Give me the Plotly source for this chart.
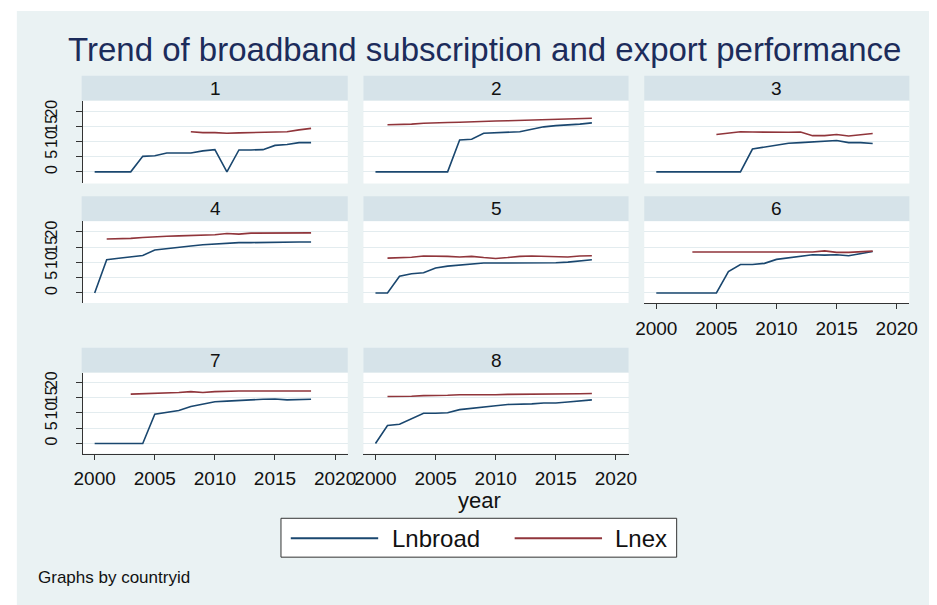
import plotly.graph_objects as go

W, H = 937, 605
years = list(range(2000, 2019))
N = None

lnbroad_1 = [0, 0, 0, 0, 5.1, 5.3, 6.2, 6.2, 6.2, 6.9, 7.3, 0, 7.2, 7.2, 7.3, 8.7, 9.0, 9.6, 9.6]
lnex_1 = [N] * 8 + [13.2, 12.9, 12.9, 12.7, 12.8, 12.9, 13.1, 13.2, 13.2, 13.8, 14.3]
lnbroad_2 = [0] * 7 + [10.5, 10.7, 12.7, 12.9, 13.0, 13.2, 14.0, 14.8, 15.2, 15.4, 15.7, 16.1]
lnex_2 = [N] + [15.5, 15.5, 15.7, 16.0, 16.0, 16.2, 16.3, 16.5, 16.6, 16.7, 16.8, 16.9, 16.9, 17.0, 17.2, 17.3, 17.4, 17.6]
lnbroad_3 = [0] * 8 + [7.5, 8.2, 8.9, 9.4, 9.6, 9.8, 9.9, 10.3, 9.6, 9.6, 9.3]
lnex_3 = [N] * 5 + [12.3, 12.8, 13.2, 13.1, 13.0, 12.9, 13.0, 13.1, 11.9, 11.9, 12.3, 11.8, 12.3, 12.6]
lnbroad_4 = [0, 10.9, 11.4, 11.8, 12.3, 14.1, 14.6, 14.9, 15.4, 15.8, 16.1, 16.3, 16.5, 16.5, 16.6, 16.7, 16.7, 16.7, 16.7]
lnex_4 = [N] + [17.7, 17.7, 17.9, 18.2, 18.5, 18.6, 18.7, 18.8, 18.9, 19.1, 19.5, 19.3, 19.6, 19.6, 19.5, 19.5, 19.5, 19.7]
lnbroad_5 = [0, 0, 5.5, 6.3, 6.6, 8.2, 8.8, 9.2, 9.6, 9.8, 9.8, 9.8, 9.8, 9.8, 9.9, 9.9, 10.1, 10.4, 10.9]
lnex_5 = [N] + [11.4, 11.5, 11.7, 12.1, 12.1, 12.0, 11.8, 12.0, 11.6, 11.3, 11.6, 12.0, 12.1, 12.0, 11.8, 11.8, 12.1, 12.2]
lnbroad_6 = [0] * 6 + [7.0, 9.3, 9.3, 9.7, 11.0, 11.5, 12.2, 12.5, 12.4, 12.5, 12.2, 13.0, 13.6]
lnex_6 = [N] * 3 + [13.4, 13.4, 13.5, 13.5, 13.5, 13.5, 13.5, 13.5, 13.5, 13.4, 13.4, 13.8, 13.3, 13.3, 13.5, 13.7]
lnbroad_7 = [0, 0, 0, 0, 0, 9.6, 10.1, 10.8, 12.1, 12.9, 13.7, 13.9, 14.2, 14.3, 14.5, 14.6, 14.3, 14.4, 14.5]
lnex_7 = [N] * 3 + [16.2, 16.3, 16.5, 16.7, 16.7, 17.0, 16.7, 17.0, 17.2, 17.2, 17.2, 17.2, 17.0, 17.0, 17.0, 17.2]
lnbroad_8 = [0, 5.9, 6.3, 8.0, 9.9, 9.9, 10.1, 11.1, 11.6, 12.1, 12.4, 12.8, 12.8, 13.0, 13.3, 13.3, 13.6, 14.0, 14.3]
lnex_8 = [N] + [15.4, 15.4, 15.5, 15.7, 15.7, 15.8, 16.0, 16.0, 15.8, 16.0, 16.1, 16.1, 16.1, 16.3, 16.3, 16.3, 16.3, 16.4]

panels = ["1", "2", "3", "4", "5", "6", "7", "8"]
broad = [lnbroad_1, lnbroad_2, lnbroad_3, lnbroad_4, lnbroad_5, lnbroad_6, lnbroad_7, lnbroad_8]
expo = [lnex_1, lnex_2, lnex_3, lnex_4, lnex_5, lnex_6, lnex_7, lnex_8]
series_names = ["Lnbroad", "Lnex"]
y_ticks = [0, 5, 10, 15, 20]
x_ticks = [2000, 2005, 2010, 2015, 2020]

BLUE = "#1A476F"
RED = "#90353B"
BG = "#EAF2F3"
STRIP = "#D6E3E9"
GRID = "#E3ECEF"
AX = "#333333"
FONT = "Liberation Sans, Arial, sans-serif"

cols = [(75, 345), (361, 631), (647, 917)]
rows = [(74, 99, 182), (195, 220, 302), (347, 372, 453)]
yranges = [[-3.8, 23.4], [-3.3, 23.5], [-3.3, 23.2]]

def px(x):
    return x / W

def py(y):
    return 1 - y / H

fig = go.Figure()
layout = {}
shapes = [dict(type="rect", xref="paper", yref="paper", x0=px(8), x1=1, y0=0, y1=py(9),
               fillcolor=BG, line=dict(width=0), layer="below")]
annotations = []

for i, name in enumerate(panels):
    r, c = divmod(i, 3)
    x0, x1 = cols[c]
    st, pt, pb = rows[r]
    k = "" if i == 0 else str(i + 1)
    fig.add_trace(go.Scatter(x=years, y=broad[i], mode="lines", name=series_names[0],
                             line=dict(color=BLUE, width=1.6), showlegend=False,
                             xaxis="x" + k, yaxis="y" + k, connectgaps=False))
    fig.add_trace(go.Scatter(x=years, y=expo[i], mode="lines", name=series_names[1],
                             line=dict(color=RED, width=1.6), showlegend=False,
                             xaxis="x" + k, yaxis="y" + k, connectgaps=False))
    show_x = i in (5, 6, 7)
    show_y = c == 0
    layout["xaxis" + k] = dict(domain=[px(x0), px(x1)], range=[1999, 2021.05], anchor="y" + k,
                               showgrid=False, zeroline=False, tickvals=x_ticks,
                               showticklabels=show_x, ticks="outside" if show_x else "",
                               ticklen=5, tickcolor=AX, showline=show_x, linecolor=AX, linewidth=1,
                               tickfont=dict(size=19, color="#111111", family=FONT),
                               ticklabelstandoff=3)
    layout["yaxis" + k] = dict(domain=[py(pb), py(pt)], range=yranges[r], anchor="x" + k,
                               showgrid=True, gridcolor=GRID, gridwidth=1.2, zeroline=False,
                               tickvals=y_ticks, showticklabels=show_y,
                               ticks="outside" if show_y else "", ticklen=6, tickcolor=AX,
                               showline=show_y, linecolor=AX, linewidth=1, tickangle=-90,
                               tickfont=dict(size=16, color="#111111", family=FONT),
                               ticklabelstandoff=12)
    shapes.append(dict(type="rect", xref="paper", yref="paper", x0=px(x0 - 1 if c == 0 else x0), x1=px(x1),
                       y0=py(pt), y1=py(st), fillcolor=STRIP, line=dict(width=0), layer="below"))
    shapes.append(dict(type="rect", xref="paper", yref="paper", x0=px(x0), x1=px(x1),
                       y0=py(pb), y1=py(pt), fillcolor="white", line=dict(width=0), layer="below"))
    annotations.append(dict(text=name, xref="paper", yref="paper", x=px((x0 + x1) / 2),
                            y=py((st + pt) / 2), showarrow=False, xanchor="center", yanchor="middle",
                            font=dict(size=19, color="#111111", family=FONT)))

annotations.append(dict(text="Trend of broadband subscription and export performance", xref="paper",
                        yref="paper", x=px(484), y=py(48), showarrow=False, xanchor="center",
                        yanchor="middle", font=dict(size=33, color="#1C2C5B", family=FONT)))
annotations.append(dict(text="year", xref="paper", yref="paper", x=px(479), y=py(500), showarrow=False,
                        xanchor="center", yanchor="middle", font=dict(size=22, color="#111111", family=FONT)))
annotations.append(dict(text="Graphs by countryid", xref="paper", yref="paper", x=px(28), y=py(577),
                        showarrow=False, xanchor="left", yanchor="middle",
                        font=dict(size=17, color="#111111", family=FONT)))

# legend (drawn as a key box below the panels)
shapes.append(dict(type="rect", xref="paper", yref="paper", x0=px(277), x1=px(680), y0=py(557), y1=py(518),
                   fillcolor="white", line=dict(color="#333333", width=1)))
legend_items = [(287, 376, 391, BLUE, series_names[0]), (515, 604, 618, RED, series_names[1])]
for lx0, lx1, tx, col, lab in legend_items:
    shapes.append(dict(type="line", xref="paper", yref="paper", x0=px(lx0), x1=px(lx1),
                       y0=py(538), y1=py(538), line=dict(color=col, width=2)))
    annotations.append(dict(text=lab, xref="paper", yref="paper", x=px(tx - 3), y=py(538), showarrow=False,
                            xanchor="left", yanchor="middle",
                            font=dict(size=24, color="#111111", family=FONT)))

layout.update(dict(
    width=W, height=H, margin=dict(l=0, r=0, t=0, b=0),
    paper_bgcolor="white", plot_bgcolor="white",
    shapes=shapes, annotations=annotations,
    showlegend=False,
))
fig.update_layout(**layout)
fig.write_html("out.html")
